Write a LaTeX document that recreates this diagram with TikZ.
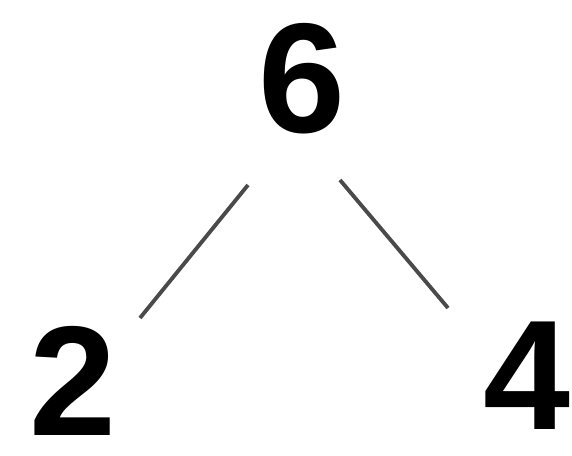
\documentclass[tikz,border=0pt]{standalone}
\usepackage{fontspec}
\setmainfont{Liberation Sans}
\definecolor{linegray}{HTML}{4A4A4A}
\tikzset{
  digit/.style={inner sep=0pt, font=\fontsize{89}{89}\selectfont\bfseries},
  branch/.style={draw=linegray, line width=2.2pt}
}
\begin{document}
\begin{tikzpicture}[x=0.02cm, y=-0.02cm]
  \useasboundingbox (0,0) rectangle (572,456);
  \node[digit] (six) at (302,79) {6};
  \node[digit] (two) at (73,381) {2};
  \node[digit] (four) at (527,376) {4};
  % ends of the two branches
  \coordinate (sixl) at (248,185);
  \coordinate (twot) at (140,318);
  \coordinate (sixr) at (340,180);
  \coordinate (fourt) at (448,308);
  \draw[branch] (sixl) -- (twot);
  \draw[branch] (sixr) -- (fourt);
\end{tikzpicture}
\end{document}
